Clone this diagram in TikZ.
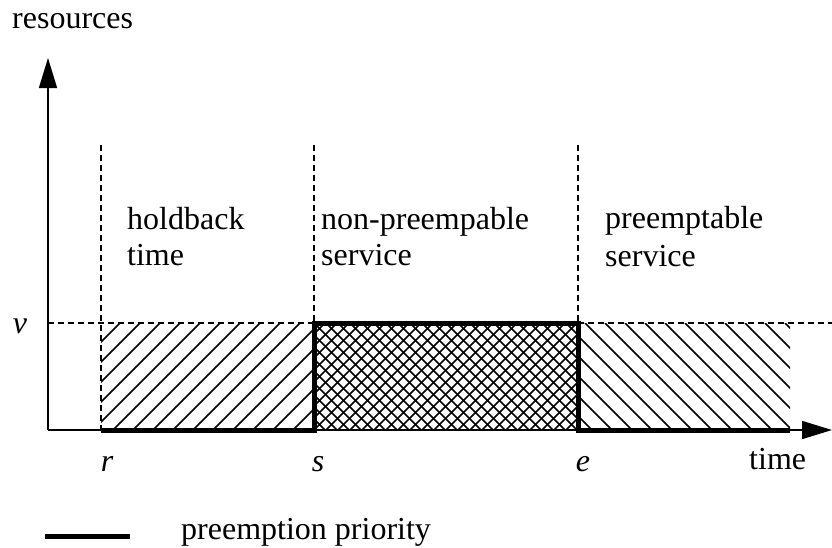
\documentclass[tikz,border=0pt]{standalone}
\usepackage{fontspec}
\setmainfont{Liberation Serif}
\usetikzlibrary{arrows.meta}
\begin{document}
\begin{tikzpicture}[x=1pt,y=-1pt,
  lbl/.style={inner sep=0pt,anchor=base west,font=\fontsize{32}{36}\selectfont},
  ilbl/.style={inner sep=0pt,anchor=base,font=\fontsize{32}{36}\selectfont\itshape},
  hatch/.style={line width=1.7pt},
  guide/.style={line width=1.2pt,dash pattern=on 6pt off 4pt},
  axis/.style={line width=1.5pt,-{Triangle[length=30pt,width=18pt]}},
  prio/.style={line width=5pt}]
\useasboundingbox (0,0) rectangle (832,547);
% coordinates
\coordinate (O) at (48,430);
\coordinate (r) at (101,430);
\coordinate (s) at (314,430);
\coordinate (e) at (578,430);
\coordinate (f) at (790,430);
\coordinate (sv) at (314,323);
\coordinate (ev) at (578,323);
% hatching: holdback
\begin{scope}
\clip (101,323) rectangle (314,430);
\foreach \x in {-127,-107,...,333} \draw[hatch] (\x,430) -- (\x+107,323);
\end{scope}
% cross-hatch: non-preemptable
\begin{scope}
\clip (314,323) rectangle (578,430);
\foreach \x in {206,218,...,590} \draw[hatch] (\x,430) -- (\x+107,323);
\foreach \x in {206,218,...,590} \draw[hatch] (\x,323) -- (\x+107,430);
\end{scope}
% hatching: preemptable
\begin{scope}
\clip (578,323) rectangle (790,430);
\foreach \x in {465,485,...,805} \draw[hatch] (\x,323) -- (\x+107,430);
\end{scope}
% guides
\coordinate (rt) at (101,145);
\coordinate (st) at (314,145);
\coordinate (et) at (578,145);
\coordinate (vl) at (48,323);
\coordinate (vr) at (832,323);
\draw[guide] (rt) -- (r);
\draw[guide] (st) -- (s);
\draw[guide] (et) -- (e);
\draw[guide] (vl) -- (vr);
% axes
\coordinate (ytip) at (48,58);
\coordinate (xtip) at (832,430);
\draw[axis] (O) -- (ytip);
\draw[axis] (O) -- (xtip);
% priority
\draw[prio,line join=miter] (r) -- (s) -- (sv) -- (ev) -- (e) -- (f);
% labels
\node[lbl] (res) at (12,28) {resources};
\node[ilbl] (v) at (20,333) {v};
\node[ilbl] (rl) at (107,471) {r};
\node[ilbl] (sl) at (318,471) {s};
\node[ilbl] (el) at (583,471) {e};
\node[lbl] (time) at (749,469) {time};
\node[lbl] (h1) at (127,229) {holdback};
\node[lbl] (h2) at (127,265) {time};
\node[lbl] (n1) at (321,229) {non-preempable};
\node[lbl] (n2) at (321,265) {service};
\node[lbl] (p1) at (605,228) {preemptable};
\node[lbl] (p2) at (605,266) {service};
% legend
\coordinate (lg1) at (45,536);
\coordinate (lg2) at (130,536);
\draw[prio] (lg1) -- (lg2);
\node[lbl] (lgt) at (181,539) {preemption priority};
\end{tikzpicture}
\end{document}
